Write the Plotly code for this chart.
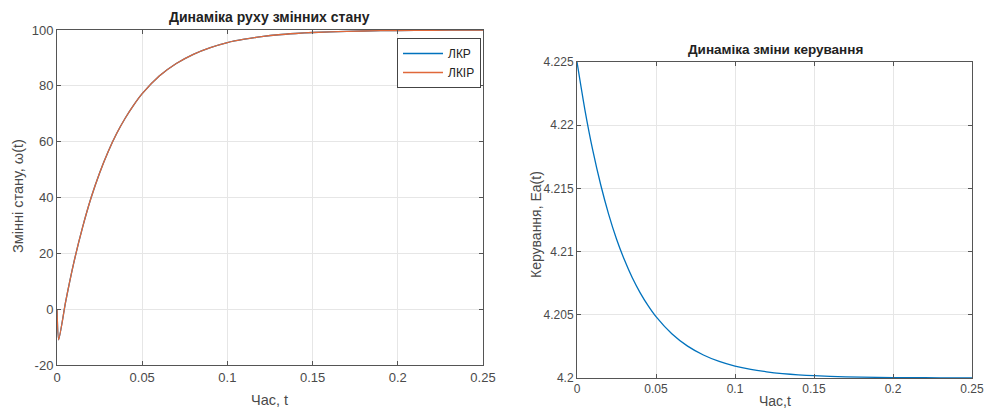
import plotly.graph_objects as go

# ---- Left chart: state variable dynamics ----
t_state = [0, 0.001, 0.005, 0.01, 0.015, 0.02, 0.025, 0.03, 0.035, 0.04, 0.045, 0.05,
           0.06, 0.07, 0.08, 0.09, 0.1, 0.11, 0.12, 0.13, 0.14, 0.15, 0.17, 0.19,
           0.21, 0.23, 0.25]
w_lkr = [0, -11, 2.4, 17.0, 29.3, 39.9, 48.8, 56.4, 62.9, 68.4, 73.1, 77.2,
         83.5, 88.0, 91.3, 93.7, 95.5, 96.7, 97.6, 98.3, 98.75, 99.1, 99.5, 99.75,
         99.87, 99.93, 99.96]
w_lkir = [0, -11, 2.4, 17.0, 29.3, 39.9, 48.8, 56.4, 62.9, 68.4, 73.1, 77.2,
          83.5, 88.0, 91.3, 93.7, 95.5, 96.7, 97.6, 98.3, 98.75, 99.1, 99.5, 99.75,
          99.87, 99.93, 99.96]

# ---- Right chart: control dynamics ----
t_ctrl = [0, 0.005, 0.01, 0.015, 0.02, 0.025, 0.03, 0.035, 0.04, 0.045, 0.05,
          0.06, 0.07, 0.08, 0.09, 0.1, 0.11, 0.12, 0.13, 0.14, 0.15, 0.17, 0.19,
          0.21, 0.23, 0.25]
ea = [4.225, 4.22122, 4.2180, 4.21529, 4.21297, 4.2110, 4.20935, 4.20793, 4.20674,
      4.20572, 4.20485, 4.2035, 4.20252, 4.20182, 4.20131, 4.20094, 4.20068,
      4.20049, 4.20035, 4.20025, 4.20018, 4.200095, 4.20005, 4.200026, 4.200013,
      4.200007]

x_ticks = [0, 0.05, 0.1, 0.15, 0.2, 0.25]
x_ticklabels = ["0", "0.05", "0.1", "0.15", "0.2", "0.25"]
y1_ticks = [-20, 0, 20, 40, 60, 80, 100]
y1_ticklabels = ["-20", "0", "20", "40", "60", "80", "100"]
y2_ticks = [4.2, 4.205, 4.21, 4.215, 4.22, 4.225]
y2_ticklabels = ["4.2", "4.205", "4.21", "4.215", "4.22", "4.225"]

OFF = 8  # page body margin
W, H = 993 - OFF, 416 - 2 * OFF
FONT = "Liberation Sans, Arial, sans-serif"
TXT = "#4a4a4a"
AX = "#555555"
GRID = "#e6e6e6"

fig = go.Figure()
fig.add_trace(go.Scatter(x=t_state, y=w_lkr, mode="lines", name="ЛКР",
                         line=dict(color="#0072BD", width=1.3, shape="spline", smoothing=0.6),
                         xaxis="x", yaxis="y"))
fig.add_trace(go.Scatter(x=t_state, y=w_lkir, mode="lines", name="ЛКІР",
                         line=dict(color="#E0683A", width=1.3, shape="spline", smoothing=0.6),
                         xaxis="x", yaxis="y"))
fig.add_trace(go.Scatter(x=t_ctrl, y=ea, mode="lines", name="Ea",
                         line=dict(color="#0072BD", width=1.3, shape="spline", smoothing=0.6),
                         xaxis="x2", yaxis="y2", showlegend=False))

def px_x(p):
    return (p - OFF) / W

def px_y(p):
    return 1 - (p - OFF) / H

def axis_style(size):
    return dict(showgrid=True, gridcolor=GRID, gridwidth=1, zeroline=False,
                showline=True, linecolor=AX, linewidth=1, mirror="ticks",
                ticks="inside", ticklen=4, tickcolor=AX, automargin=False,
                ticklabeloverflow="allow",
                tickfont=dict(family=FONT, size=size, color=TXT))

fig.update_layout(
    template="none",
    width=W, height=H,
    margin=dict(l=0, r=0, t=0, b=0, pad=0, autoexpand=False),
    paper_bgcolor="white", plot_bgcolor="white",
    font=dict(family=FONT, color=TXT),
    xaxis=dict(domain=[px_x(57), px_x(483)], range=[0, 0.25], anchor="y",
               tickvals=x_ticks, ticktext=x_ticklabels, **axis_style(13)),
    yaxis=dict(domain=[px_y(365), px_y(30)], range=[-20, 100], anchor="x",
               tickvals=y1_ticks, ticktext=y1_ticklabels, **axis_style(13)),
    xaxis2=dict(domain=[px_x(577), px_x(972)], range=[0, 0.25], anchor="y2",
                tickvals=x_ticks, ticktext=x_ticklabels, **axis_style(12)),
    yaxis2=dict(domain=[px_y(378), px_y(62)], range=[4.2, 4.225], anchor="x2",
                tickvals=y2_ticks, ticktext=y2_ticklabels, **axis_style(12)),
    legend=dict(x=px_x(481), y=px_y(38), xanchor="right", yanchor="top",
                bgcolor="white", bordercolor="#444444", borderwidth=1,
                font=dict(family=FONT, size=12, color="#222222"),
                tracegroupgap=0, itemwidth=40),
    showlegend=True,
)

annotations = [
    dict(text="<b>Динаміка руху змінних стану</b>", x=px_x(269), y=px_y(17),
         font=dict(size=14, color="#222222")),
    dict(text="<b>Динаміка зміни керування</b>", x=px_x(775), y=px_y(49),
         font=dict(size=13.5, color="#222222")),
    dict(text="Час, t", x=px_x(269), y=px_y(400), font=dict(size=14.5, color=TXT)),
    dict(text="Час,t", x=px_x(775), y=px_y(401), font=dict(size=14, color=TXT)),
    dict(text="Змінні стану, ω(t)", x=px_x(18), y=px_y(196), textangle=-90,
         font=dict(size=14.5, color=TXT)),
    dict(text="Керування, Ea(t)", x=px_x(536), y=px_y(225), textangle=-90,
         font=dict(size=14, color=TXT)),
]
for a in annotations:
    a.update(xref="paper", yref="paper", showarrow=False, xanchor="center", yanchor="middle")
    a["font"]["family"] = FONT
fig.update_layout(annotations=annotations)

fig.write_html("out.html")
